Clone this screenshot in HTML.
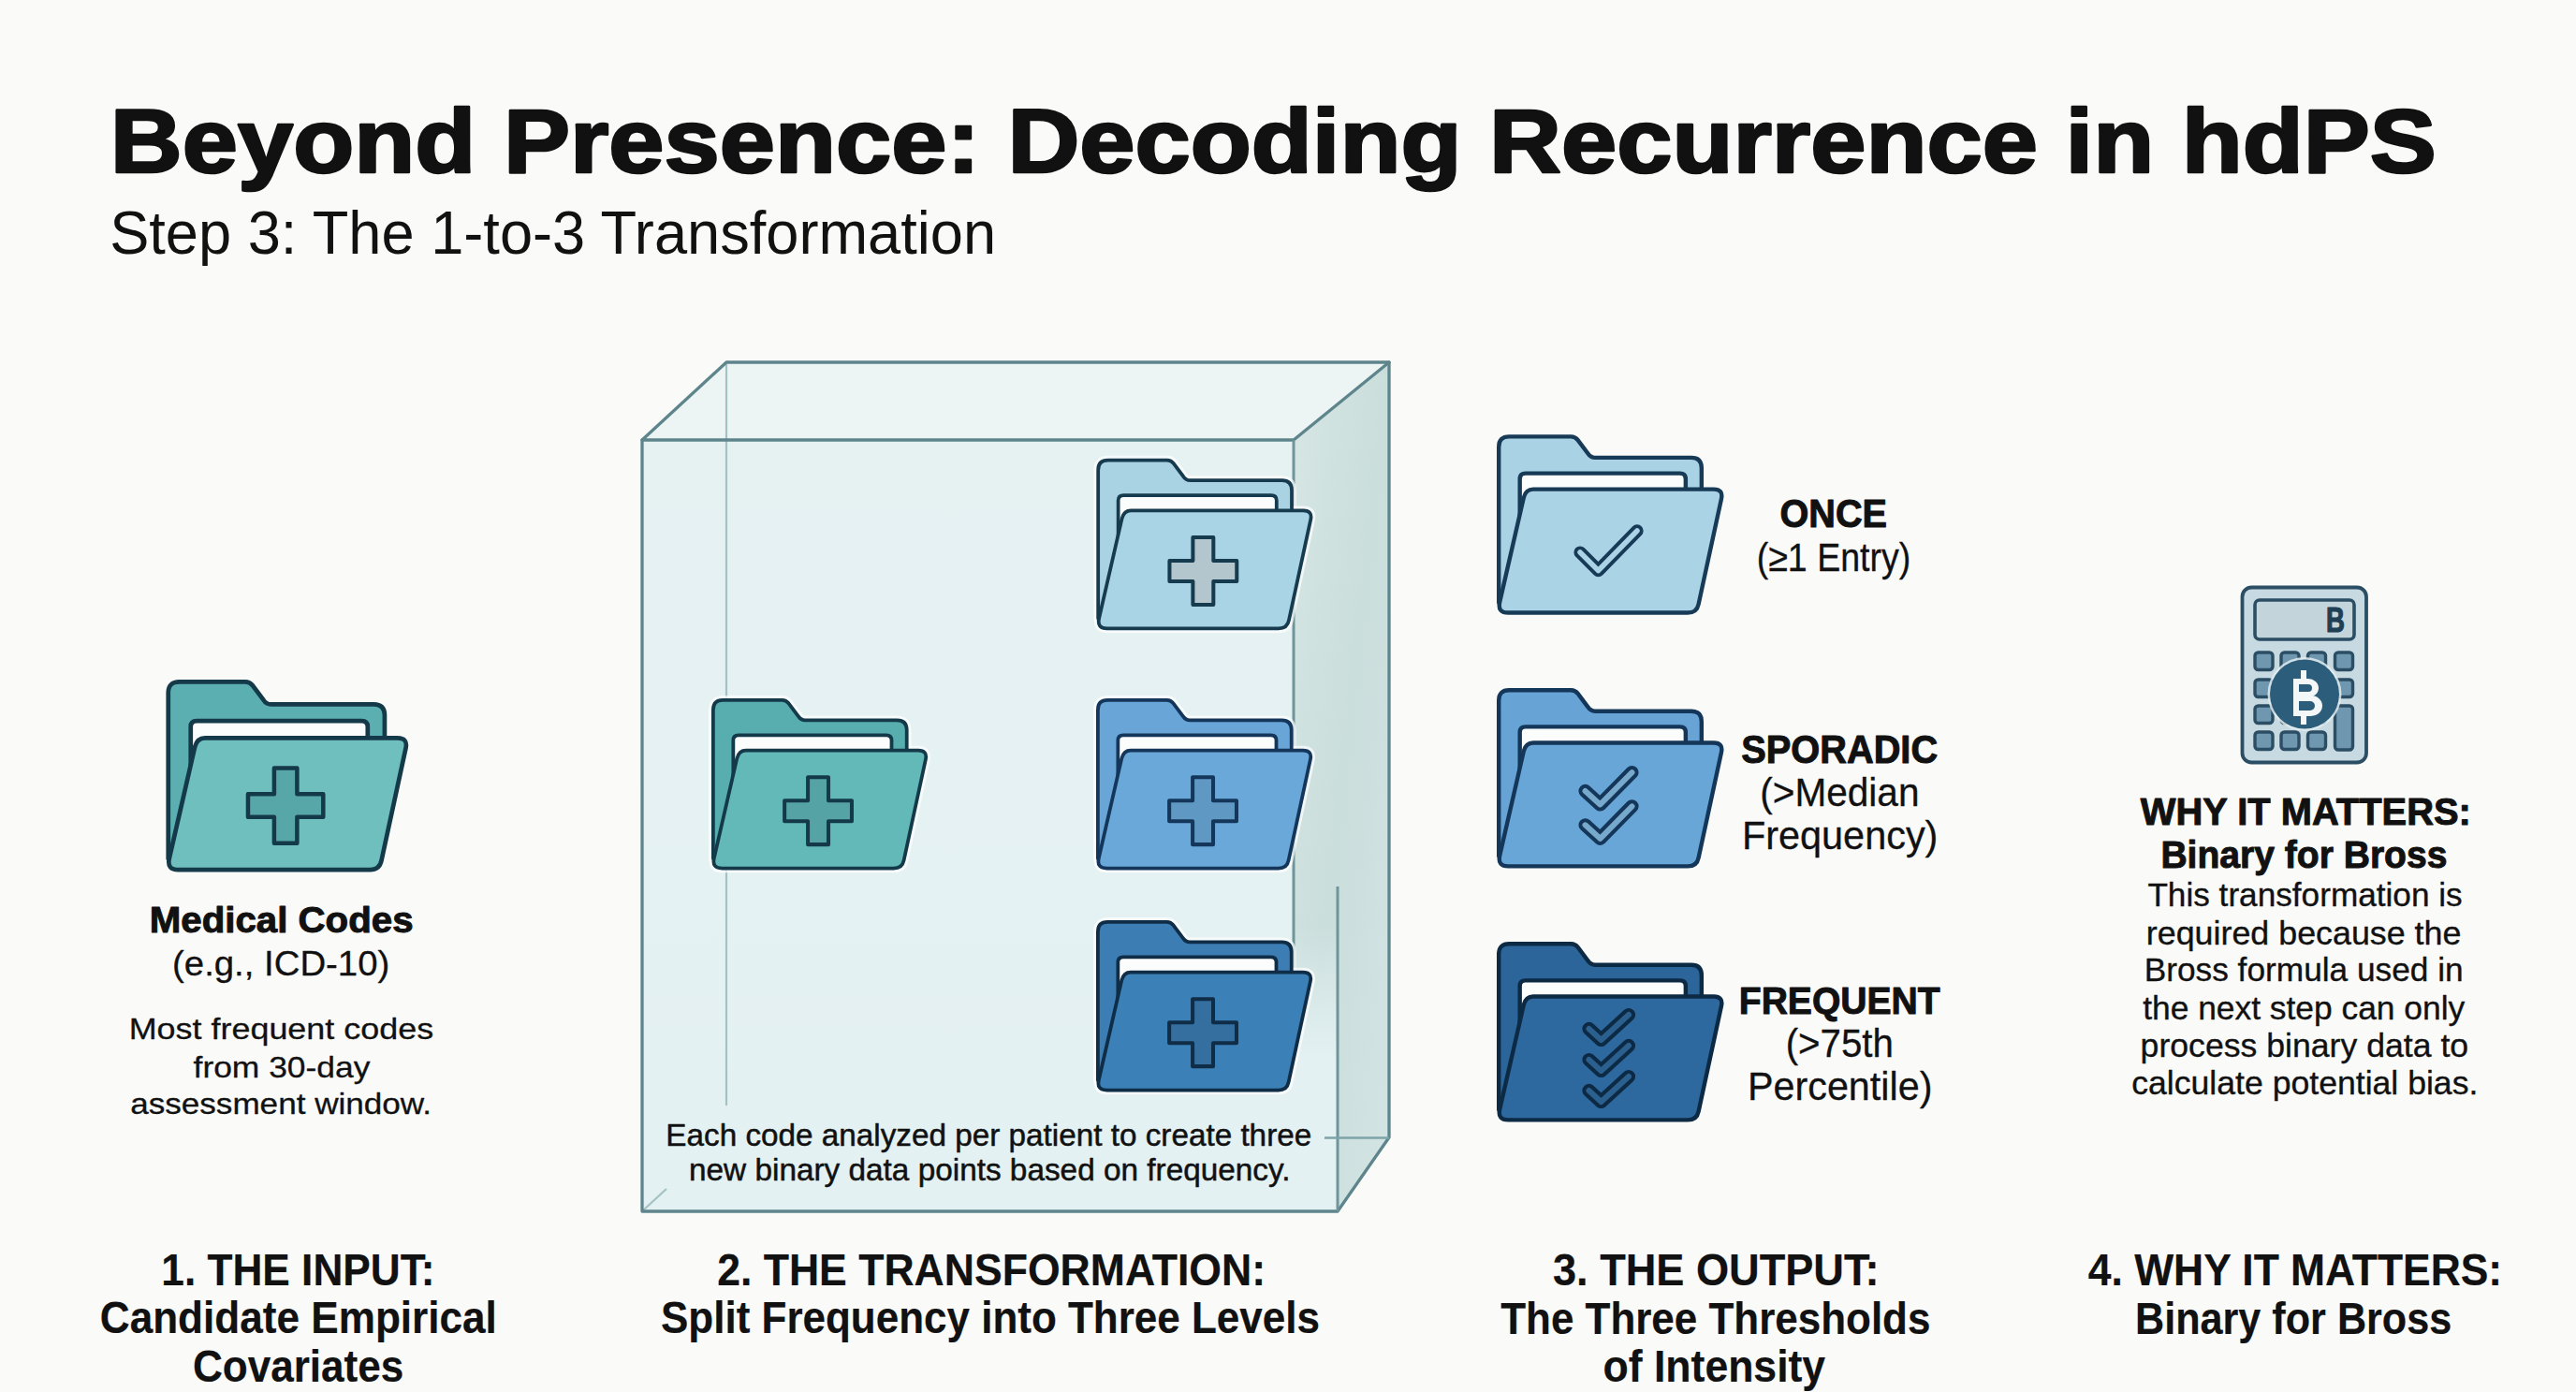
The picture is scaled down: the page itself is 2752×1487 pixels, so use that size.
<!DOCTYPE html>
<html><head><meta charset="utf-8">
<style>
html,body{margin:0;padding:0;background:#fafaf8;}
body{width:2752px;height:1487px;overflow:hidden;}
svg{display:block;}
text{font-family:"Liberation Sans",sans-serif;fill:#111111;stroke:#111111;stroke-linejoin:round;}
text.b{font-weight:700;}
text.r{font-weight:400;}
</style></head>
<body>
<svg width="2752" height="1487" viewBox="0 0 2752 1487">
<rect width="2752" height="1487" fill="#fafaf8"/>
<defs>
<linearGradient id="rf" x1="0" y1="0" x2="1" y2="1">
<stop offset="0" stop-color="#d6e6e4"/><stop offset="0.5" stop-color="#cadedc"/><stop offset="1" stop-color="#d3e4e3"/>
</linearGradient>
<linearGradient id="ff" x1="0" y1="0" x2="0" y2="1">
<stop offset="0" stop-color="#e6f2f2"/><stop offset="1" stop-color="#e4f1f2"/>
</linearGradient>
<linearGradient id="strip" x1="0" y1="0" x2="0" y2="1">
<stop offset="0" stop-color="#e4f1f2" stop-opacity="0"/><stop offset="1" stop-color="#e4f1f2" stop-opacity="1"/>
</linearGradient>
</defs>
<polygon points="686,470 776,387 1484,387 1382,470" fill="#ecf5f4"/>
<polygon points="686,470 1382,470 1382,1130 1429,1130 1429,1294 686,1294" fill="url(#ff)"/>
<polygon points="1382,470 1484,387 1484,1215 1429,1294 1429,1130 1382,1130" fill="url(#rf)"/>
<rect x="1382" y="990" width="47" height="141" fill="url(#strip)"/>
<g stroke="#a3c2c4" stroke-width="2.2" fill="none">
<line x1="776" y1="389" x2="776" y2="1181"/>
<line x1="687" y1="1293" x2="712" y2="1270"/>

</g>
<g stroke="#5e858c" stroke-width="3.3" fill="none" stroke-linejoin="round" stroke-linecap="round">
<polyline points="686,1294 686,470 776,387 1484,387 1484,1215 1429,1294 686,1294"/>
<polyline points="686,470 1382,470 1484,387"/>
</g>
<g stroke="#6f959b" stroke-width="3" fill="none">
<line x1="1382" y1="470" x2="1382" y2="1080"/>
<line x1="1429" y1="947" x2="1429" y2="1294"/>
<line x1="1415" y1="1215.5" x2="1484" y2="1215.5" stroke="#7ea3a8" stroke-width="2.6"/>
</g>
<g transform="translate(179.75,728.35) scale(0.9796)" stroke="#143a4a" stroke-width="4.8" stroke-linejoin="round">
<path fill="#5cafb0" d="M0,12 Q0,0 12,0 L84,0 Q89,0 92,4 L104,20 Q107,24.5 112,24.5 L224,24.5 Q236,24.5 236,36.5 L236,120 L20,190 L0,193 Z"/>
<path fill="#fbfcfc" d="M24.5,120 L24.5,49 Q24.5,42.7 31,42.7 L211,42.7 Q217.5,42.7 217.5,49 L217.5,120 Z"/>
<path fill="#70bfbf" d="M40,61.3 L250,61.3 Q261.5,61.3 259,72.5 L232.5,195 Q230.5,205 220,205 L11,205 Q-1.5,205 1,193 L29,71 Q31.5,61.3 40,61.3 Z"/>
<path fill="#58a7a8" stroke-width="4.6" d="M115.5,94 H140.5 V122.5 H169 V147.5 H140.5 V176 H115.5 V147.5 H87 V122.5 H115.5 Z"/>
</g>
<g transform="translate(761.88,747.88) scale(0.8764)" stroke="#ffffff" stroke-opacity="0.7" stroke-width="11" stroke-linejoin="round" fill="#ffffff">
<path d="M0,12 Q0,0 12,0 L84,0 Q89,0 92,4 L104,20 Q107,24.5 112,24.5 L224,24.5 Q236,24.5 236,36.5 L236,120 L20,190 L0,193 Z"/>
<path d="M40,61.3 L250,61.3 Q261.5,61.3 259,72.5 L232.5,195 Q230.5,205 220,205 L11,205 Q-1.5,205 1,193 L29,71 Q31.5,61.3 40,61.3 Z"/>
</g>
<g transform="translate(761.88,747.88) scale(0.8764)" stroke="#143a4a" stroke-width="4.3" stroke-linejoin="round">
<path fill="#58adae" d="M0,12 Q0,0 12,0 L84,0 Q89,0 92,4 L104,20 Q107,24.5 112,24.5 L224,24.5 Q236,24.5 236,36.5 L236,120 L20,190 L0,193 Z"/>
<path fill="#fbfcfc" d="M24.5,120 L24.5,49 Q24.5,42.7 31,42.7 L211,42.7 Q217.5,42.7 217.5,49 L217.5,120 Z"/>
<path fill="#63b8b8" d="M40,61.3 L250,61.3 Q261.5,61.3 259,72.5 L232.5,195 Q230.5,205 220,205 L11,205 Q-1.5,205 1,193 L29,71 Q31.5,61.3 40,61.3 Z"/>
<path fill="#55a3a5" stroke-width="4.6" d="M115.5,94 H140.5 V122.5 H169 V147.5 H140.5 V176 H115.5 V147.5 H87 V122.5 H115.5 Z"/>
</g>
<g transform="translate(1173.18,491.68) scale(0.8764)" stroke="#ffffff" stroke-opacity="0.7" stroke-width="11" stroke-linejoin="round" fill="#ffffff">
<path d="M0,12 Q0,0 12,0 L84,0 Q89,0 92,4 L104,20 Q107,24.5 112,24.5 L224,24.5 Q236,24.5 236,36.5 L236,120 L20,190 L0,193 Z"/>
<path d="M40,61.3 L250,61.3 Q261.5,61.3 259,72.5 L232.5,195 Q230.5,205 220,205 L11,205 Q-1.5,205 1,193 L29,71 Q31.5,61.3 40,61.3 Z"/>
</g>
<g transform="translate(1173.18,491.68) scale(0.8764)" stroke="#163a4e" stroke-width="4.3" stroke-linejoin="round">
<path fill="#a9d3e3" d="M0,12 Q0,0 12,0 L84,0 Q89,0 92,4 L104,20 Q107,24.5 112,24.5 L224,24.5 Q236,24.5 236,36.5 L236,120 L20,190 L0,193 Z"/>
<path fill="#fbfcfc" d="M24.5,120 L24.5,49 Q24.5,42.7 31,42.7 L211,42.7 Q217.5,42.7 217.5,49 L217.5,120 Z"/>
<path fill="#a9d4e5" d="M40,61.3 L250,61.3 Q261.5,61.3 259,72.5 L232.5,195 Q230.5,205 220,205 L11,205 Q-1.5,205 1,193 L29,71 Q31.5,61.3 40,61.3 Z"/>
<path fill="#b3c6ce" stroke-width="4.6" d="M115.5,94 H140.5 V122.5 H169 V147.5 H140.5 V176 H115.5 V147.5 H87 V122.5 H115.5 Z"/>
</g>
<g transform="translate(1172.88,747.88) scale(0.8764)" stroke="#ffffff" stroke-opacity="0.7" stroke-width="11" stroke-linejoin="round" fill="#ffffff">
<path d="M0,12 Q0,0 12,0 L84,0 Q89,0 92,4 L104,20 Q107,24.5 112,24.5 L224,24.5 Q236,24.5 236,36.5 L236,120 L20,190 L0,193 Z"/>
<path d="M40,61.3 L250,61.3 Q261.5,61.3 259,72.5 L232.5,195 Q230.5,205 220,205 L11,205 Q-1.5,205 1,193 L29,71 Q31.5,61.3 40,61.3 Z"/>
</g>
<g transform="translate(1172.88,747.88) scale(0.8764)" stroke="#14365a" stroke-width="4.3" stroke-linejoin="round">
<path fill="#69a5d6" d="M0,12 Q0,0 12,0 L84,0 Q89,0 92,4 L104,20 Q107,24.5 112,24.5 L224,24.5 Q236,24.5 236,36.5 L236,120 L20,190 L0,193 Z"/>
<path fill="#fbfcfc" d="M24.5,120 L24.5,49 Q24.5,42.7 31,42.7 L211,42.7 Q217.5,42.7 217.5,49 L217.5,120 Z"/>
<path fill="#6aa8d9" d="M40,61.3 L250,61.3 Q261.5,61.3 259,72.5 L232.5,195 Q230.5,205 220,205 L11,205 Q-1.5,205 1,193 L29,71 Q31.5,61.3 40,61.3 Z"/>
<path fill="#5f98c3" stroke-width="4.6" d="M115.5,94 H140.5 V122.5 H169 V147.5 H140.5 V176 H115.5 V147.5 H87 V122.5 H115.5 Z"/>
</g>
<g transform="translate(1172.88,984.88) scale(0.8764)" stroke="#ffffff" stroke-opacity="0.7" stroke-width="11" stroke-linejoin="round" fill="#ffffff">
<path d="M0,12 Q0,0 12,0 L84,0 Q89,0 92,4 L104,20 Q107,24.5 112,24.5 L224,24.5 Q236,24.5 236,36.5 L236,120 L20,190 L0,193 Z"/>
<path d="M40,61.3 L250,61.3 Q261.5,61.3 259,72.5 L232.5,195 Q230.5,205 220,205 L11,205 Q-1.5,205 1,193 L29,71 Q31.5,61.3 40,61.3 Z"/>
</g>
<g transform="translate(1172.88,984.88) scale(0.8764)" stroke="#0f2d47" stroke-width="4.3" stroke-linejoin="round">
<path fill="#3c7eb4" d="M0,12 Q0,0 12,0 L84,0 Q89,0 92,4 L104,20 Q107,24.5 112,24.5 L224,24.5 Q236,24.5 236,36.5 L236,120 L20,190 L0,193 Z"/>
<path fill="#fbfcfc" d="M24.5,120 L24.5,49 Q24.5,42.7 31,42.7 L211,42.7 Q217.5,42.7 217.5,49 L217.5,120 Z"/>
<path fill="#3c80b8" d="M40,61.3 L250,61.3 Q261.5,61.3 259,72.5 L232.5,195 Q230.5,205 220,205 L11,205 Q-1.5,205 1,193 L29,71 Q31.5,61.3 40,61.3 Z"/>
<path fill="#346fa0" stroke-width="4.6" d="M115.5,94 H140.5 V122.5 H169 V147.5 H140.5 V176 H115.5 V147.5 H87 V122.5 H115.5 Z"/>
</g>
<g transform="translate(1601.20,466.40) scale(0.9179)" stroke="#173a56" stroke-width="4.8" stroke-linejoin="round">
<path fill="#a9d2e5" d="M0,12 Q0,0 12,0 L84,0 Q89,0 92,4 L104,20 Q107,24.5 112,24.5 L224,24.5 Q236,24.5 236,36.5 L236,120 L20,190 L0,193 Z"/>
<path fill="#fbfcfc" d="M24.5,120 L24.5,49 Q24.5,42.7 31,42.7 L211,42.7 Q217.5,42.7 217.5,49 L217.5,120 Z"/>
<path fill="#abd3e6" d="M40,61.3 L250,61.3 Q261.5,61.3 259,72.5 L232.5,195 Q230.5,205 220,205 L11,205 Q-1.5,205 1,193 L29,71 Q31.5,61.3 40,61.3 Z"/>
<polyline points="94.6,134.7 115.8,155.9 161.0,109.6" fill="none" stroke="#173a56" stroke-width="14.5" stroke-linecap="round" stroke-linejoin="round"/>
<polyline points="94.6,134.7 115.8,155.9 161.0,109.6" fill="none" stroke="#abd3e6" stroke-width="6" stroke-linecap="round" stroke-linejoin="round"/>
</g>
<g transform="translate(1601.20,737.20) scale(0.9179)" stroke="#143658" stroke-width="4.8" stroke-linejoin="round">
<path fill="#67a3d5" d="M0,12 Q0,0 12,0 L84,0 Q89,0 92,4 L104,20 Q107,24.5 112,24.5 L224,24.5 Q236,24.5 236,36.5 L236,120 L20,190 L0,193 Z"/>
<path fill="#fbfcfc" d="M24.5,120 L24.5,49 Q24.5,42.7 31,42.7 L211,42.7 Q217.5,42.7 217.5,49 L217.5,120 Z"/>
<path fill="#69a6d8" d="M40,61.3 L250,61.3 Q261.5,61.3 259,72.5 L232.5,195 Q230.5,205 220,205 L11,205 Q-1.5,205 1,193 L29,71 Q31.5,61.3 40,61.3 Z"/>
<polyline points="100.6,117.4 118.0,133.2 155.0,95.7" fill="none" stroke="#143658" stroke-width="15.5" stroke-linecap="round" stroke-linejoin="round"/>
<polyline points="100.6,117.4 118.0,133.2 155.0,95.7" fill="none" stroke="#76a9cb" stroke-width="6.5" stroke-linecap="round" stroke-linejoin="round"/>
<polyline points="100.6,157.0 118.0,172.8 155.0,135.2" fill="none" stroke="#143658" stroke-width="15.5" stroke-linecap="round" stroke-linejoin="round"/>
<polyline points="100.6,157.0 118.0,172.8 155.0,135.2" fill="none" stroke="#76a9cb" stroke-width="6.5" stroke-linecap="round" stroke-linejoin="round"/>
</g>
<g transform="translate(1601.20,1008.20) scale(0.9179)" stroke="#0d2a45" stroke-width="4.8" stroke-linejoin="round">
<path fill="#2c6599" d="M0,12 Q0,0 12,0 L84,0 Q89,0 92,4 L104,20 Q107,24.5 112,24.5 L224,24.5 Q236,24.5 236,36.5 L236,120 L20,190 L0,193 Z"/>
<path fill="#fbfcfc" d="M24.5,120 L24.5,49 Q24.5,42.7 31,42.7 L211,42.7 Q217.5,42.7 217.5,49 L217.5,120 Z"/>
<path fill="#2d689e" d="M40,61.3 L250,61.3 Q261.5,61.3 259,72.5 L232.5,195 Q230.5,205 220,205 L11,205 Q-1.5,205 1,193 L29,71 Q31.5,61.3 40,61.3 Z"/>
<polyline points="104.9,98.9 119.1,112.0 151.2,82.6" fill="none" stroke="#0d2a45" stroke-width="15.5" stroke-linecap="round" stroke-linejoin="round"/>
<polyline points="104.9,98.9 119.1,112.0 151.2,82.6" fill="none" stroke="#2a5f8e" stroke-width="6.5" stroke-linecap="round" stroke-linejoin="round"/>
<polyline points="104.9,134.9 119.1,147.9 151.2,118.5" fill="none" stroke="#0d2a45" stroke-width="15.5" stroke-linecap="round" stroke-linejoin="round"/>
<polyline points="104.9,134.9 119.1,147.9 151.2,118.5" fill="none" stroke="#2a5f8e" stroke-width="6.5" stroke-linecap="round" stroke-linejoin="round"/>
<polyline points="104.9,170.8 119.1,183.9 151.2,154.5" fill="none" stroke="#0d2a45" stroke-width="15.5" stroke-linecap="round" stroke-linejoin="round"/>
<polyline points="104.9,170.8 119.1,183.9 151.2,154.5" fill="none" stroke="#2a5f8e" stroke-width="6.5" stroke-linecap="round" stroke-linejoin="round"/>
</g>
<g stroke="#2b4e64" stroke-linejoin="round">
<rect x="2395.5" y="627.5" width="132.5" height="187" rx="10" fill="#c7d9e1" stroke-width="3.8"/>
<rect x="2409" y="641" width="106" height="42" rx="5" fill="#c3d4db" stroke-width="3.6"/>
<rect x="2409" y="697" width="19" height="18.5" rx="3.5" fill="#6f98b0" stroke-width="3.4"/>
<rect x="2437" y="697" width="19" height="18.5" rx="3.5" fill="#6f98b0" stroke-width="3.4"/>
<rect x="2465.5" y="697" width="19" height="18.5" rx="3.5" fill="#6f98b0" stroke-width="3.4"/>
<rect x="2494.5" y="697" width="19" height="18.5" rx="3.5" fill="#6f98b0" stroke-width="3.4"/>
<rect x="2409" y="726" width="19" height="18.5" rx="3.5" fill="#6f98b0" stroke-width="3.4"/>
<rect x="2437" y="726" width="19" height="18.5" rx="3.5" fill="#6f98b0" stroke-width="3.4"/>
<rect x="2465.5" y="726" width="19" height="18.5" rx="3.5" fill="#6f98b0" stroke-width="3.4"/>
<rect x="2494.5" y="726" width="19" height="18.5" rx="3.5" fill="#6f98b0" stroke-width="3.4"/>
<rect x="2409" y="754" width="19" height="18.5" rx="3.5" fill="#6f98b0" stroke-width="3.4"/>
<rect x="2437" y="754" width="19" height="18.5" rx="3.5" fill="#6f98b0" stroke-width="3.4"/>
<rect x="2465.5" y="754" width="19" height="18.5" rx="3.5" fill="#6f98b0" stroke-width="3.4"/>
<rect x="2494.5" y="754" width="19" height="47" rx="3.5" fill="#6f98b0" stroke-width="3.4"/>
<rect x="2409" y="782" width="19" height="18.5" rx="3.5" fill="#6f98b0" stroke-width="3.4"/>
<rect x="2437" y="782" width="19" height="18.5" rx="3.5" fill="#6f98b0" stroke-width="3.4"/>
<rect x="2465.5" y="782" width="19" height="18.5" rx="3.5" fill="#6f98b0" stroke-width="3.4"/>
</g>
<text x="2485" y="675" class="b" font-size="37" style="fill:#1f3f55;stroke:#1f3f55" stroke-width="1.2" textLength="20" lengthAdjust="spacingAndGlyphs">B</text>
<circle cx="2462" cy="741.5" r="39.5" fill="#e2ecef" opacity="0.85"/>
<circle cx="2462" cy="741.5" r="37" fill="#2c5e7c"/>
<g fill="#f4f7f8">
<path d="M2450,725 h16 a11,10 0 0 1 0,20 h-16 Z M2456,731 v8 h10 a4,4 0 0 0 0,-8 Z" fill-rule="evenodd"/>
<path d="M2450,743 h19 a12,11 0 0 1 0,22 h-19 Z M2456,749 v10 h12 a5,5 0 0 0 0,-10 Z" fill-rule="evenodd"/>
<rect x="2458" y="716" width="6" height="10"/><rect x="2458" y="764" width="6" height="10"/>
</g>
<g>
<text id="t0" class="b" x="117.88" y="184.20" font-size="96.51" stroke-width="2.6" textLength="2484.98" lengthAdjust="spacingAndGlyphs">Beyond Presence: Decoding Recurrence in hdPS</text>
<text id="t1" class="r" x="117.15" y="271.00" font-size="63.95" stroke-width="0.0" textLength="946.94" lengthAdjust="spacingAndGlyphs">Step 3: The 1-to-3 Transformation</text>
<text id="t2" class="b" x="159.81" y="996.20" font-size="39.24" stroke-width="1.0" textLength="281.74" lengthAdjust="spacingAndGlyphs">Medical Codes</text>
<text id="t3" class="r" x="184.07" y="1042.35" font-size="36.63" stroke-width="0.3" textLength="232.15" lengthAdjust="spacingAndGlyphs">(e.g., ICD-10)</text>
<text id="t4" class="r" x="137.70" y="1109.55" font-size="31.54" stroke-width="0.3" textLength="325.44" lengthAdjust="spacingAndGlyphs">Most frequent codes</text>
<text id="t5" class="r" x="206.55" y="1150.65" font-size="31.54" stroke-width="0.3" textLength="188.87" lengthAdjust="spacingAndGlyphs">from 30-day</text>
<text id="t6" class="r" x="139.17" y="1189.85" font-size="31.54" stroke-width="0.3" textLength="321.87" lengthAdjust="spacingAndGlyphs">assessment window.</text>
<text id="t7" class="r" x="711.32" y="1223.75" font-size="32.70" stroke-width="0.5" textLength="689.91" lengthAdjust="spacingAndGlyphs">Each code analyzed per patient to create three</text>
<text id="t8" class="r" x="736.04" y="1261.25" font-size="32.70" stroke-width="0.5" textLength="642.44" lengthAdjust="spacingAndGlyphs">new binary data points based on frequency.</text>
<text id="t9" class="b" x="1901.47" y="563.30" font-size="42.15" stroke-width="1.0" textLength="114.47" lengthAdjust="spacingAndGlyphs">ONCE</text>
<text id="t10" class="r" x="1876.72" y="609.75" font-size="42.15" stroke-width="0.3" textLength="164.56" lengthAdjust="spacingAndGlyphs">(≥1 Entry)</text>
<text id="t11" class="b" x="1860.36" y="814.80" font-size="42.15" stroke-width="1.0" textLength="209.73" lengthAdjust="spacingAndGlyphs">SPORADIC</text>
<text id="t12" class="r" x="1880.23" y="861.45" font-size="43.17" stroke-width="0.3" textLength="170.25" lengthAdjust="spacingAndGlyphs">(&gt;Median</text>
<text id="t13" class="r" x="1860.95" y="906.75" font-size="43.17" stroke-width="0.3" textLength="209.47" lengthAdjust="spacingAndGlyphs">Frequency)</text>
<text id="t14" class="b" x="1857.79" y="1083.10" font-size="41.57" stroke-width="1.0" textLength="214.93" lengthAdjust="spacingAndGlyphs">FREQUENT</text>
<text id="t15" class="r" x="1907.65" y="1128.75" font-size="42.59" stroke-width="0.3" textLength="115.31" lengthAdjust="spacingAndGlyphs">(&gt;75th</text>
<text id="t16" class="r" x="1866.96" y="1174.55" font-size="42.59" stroke-width="0.3" textLength="197.45" lengthAdjust="spacingAndGlyphs">Percentile)</text>
<text id="t17" class="b" x="2286.86" y="881.40" font-size="41.43" stroke-width="1.0" textLength="353.04" lengthAdjust="spacingAndGlyphs">WHY IT MATTERS:</text>
<text id="t18" class="b" x="2308.39" y="926.50" font-size="40.70" stroke-width="1.0" textLength="306.01" lengthAdjust="spacingAndGlyphs">Binary for Bross</text>
<text id="t19" class="r" x="2294.38" y="967.83" font-size="35.10" stroke-width="0.35" textLength="336.31" lengthAdjust="spacingAndGlyphs">This transformation is</text>
<text id="t20" class="r" x="2292.80" y="1008.53" font-size="35.10" stroke-width="0.35" textLength="336.62" lengthAdjust="spacingAndGlyphs">required because the</text>
<text id="t21" class="r" x="2290.68" y="1048.12" font-size="35.10" stroke-width="0.35" textLength="341.03" lengthAdjust="spacingAndGlyphs">Bross formula used in</text>
<text id="t22" class="r" x="2289.14" y="1089.33" font-size="35.10" stroke-width="0.35" textLength="344.15" lengthAdjust="spacingAndGlyphs">the next step can only</text>
<text id="t23" class="r" x="2286.58" y="1128.83" font-size="35.10" stroke-width="0.35" textLength="350.54" lengthAdjust="spacingAndGlyphs">process binary data to</text>
<text id="t24" class="r" x="2277.26" y="1169.23" font-size="35.10" stroke-width="0.35" textLength="370.11" lengthAdjust="spacingAndGlyphs">calculate potential bias.</text>
<text id="t25" class="b" x="172.36" y="1372.80" font-size="47.68" stroke-width="0.2" textLength="292.12" lengthAdjust="spacingAndGlyphs">1. THE INPUT:</text>
<text id="t26" class="b" x="106.79" y="1424.10" font-size="47.68" stroke-width="0.2" textLength="424.03" lengthAdjust="spacingAndGlyphs">Candidate Empirical</text>
<text id="t27" class="b" x="205.89" y="1476.20" font-size="47.68" stroke-width="0.2" textLength="225.42" lengthAdjust="spacingAndGlyphs">Covariates</text>
<text id="t28" class="b" x="766.16" y="1373.00" font-size="47.68" stroke-width="0.2" textLength="585.90" lengthAdjust="spacingAndGlyphs">2. THE TRANSFORMATION:</text>
<text id="t29" class="b" x="706.03" y="1424.30" font-size="47.68" stroke-width="0.2" textLength="703.87" lengthAdjust="spacingAndGlyphs">Split Frequency into Three Levels</text>
<text id="t30" class="b" x="1658.98" y="1372.70" font-size="47.68" stroke-width="0.2" textLength="348.60" lengthAdjust="spacingAndGlyphs">3. THE OUTPUT:</text>
<text id="t31" class="b" x="1603.21" y="1424.70" font-size="47.68" stroke-width="0.2" textLength="459.20" lengthAdjust="spacingAndGlyphs">The Three Thresholds</text>
<text id="t32" class="b" x="1712.56" y="1476.20" font-size="47.68" stroke-width="0.2" textLength="237.58" lengthAdjust="spacingAndGlyphs">of Intensity</text>
<text id="t33" class="b" x="2230.83" y="1372.70" font-size="47.68" stroke-width="0.2" textLength="442.30" lengthAdjust="spacingAndGlyphs">4. WHY IT MATTERS:</text>
<text id="t34" class="b" x="2281.01" y="1424.70" font-size="47.68" stroke-width="0.2" textLength="338.26" lengthAdjust="spacingAndGlyphs">Binary for Bross</text>
</g>
</svg>
</body></html>
